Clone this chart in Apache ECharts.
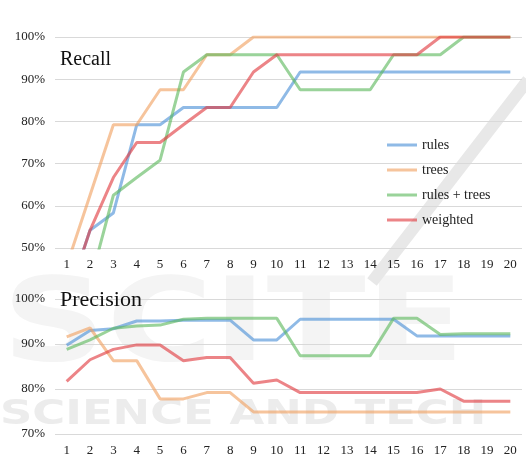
<!DOCTYPE html>
<html><head><meta charset="utf-8">
<script src="https://cdn.jsdelivr.net/npm/echarts@6/dist/echarts.min.js"></script>
<style>html,body{margin:0;padding:0;background:#fff}#c{width:526px;height:457px}</style>
</head><body><div id="c"></div>
<script>
var categories = ['1','2','3','4','5','6','7','8','9','10','11','12','13','14','15','16','17','18','19','20'];
var seriesNames = ['rules','trees','rules + trees','weighted'];
var recallRules    = [37.5,54.2,58.3,79.2,79.2,83.3,83.3,83.3,83.3,83.3,91.7,91.7,91.7,91.7,91.7,91.7,91.7,91.7,91.7,91.7];
var recallTrees    = [45.8,62.5,79.2,79.2,87.5,87.5,95.8,95.8,100,100,100,100,100,100,100,100,100,100,100,100];
var recallBoth     = [33.3,41.7,62.5,66.7,70.8,91.7,95.8,95.8,95.8,95.8,87.5,87.5,87.5,87.5,95.8,95.8,95.8,100,100,100];
var recallWeighted = [37.5,54.2,66.7,75.0,75.0,79.2,83.3,83.3,91.7,95.8,95.8,95.8,95.8,95.8,95.8,95.8,100,100,100,100];
var precRules    = [89.7,93.0,93.4,95.1,95.1,95.3,95.3,95.3,90.9,90.9,95.5,95.5,95.5,95.5,95.5,91.8,91.8,91.8,91.8,91.8];
var precTrees    = [91.6,93.6,86.3,86.3,77.8,77.8,79.2,79.2,74.9,74.9,74.9,74.9,74.9,74.9,74.9,74.9,74.9,74.9,74.9,74.9];
var precBoth     = [88.8,90.9,93.5,94.0,94.2,95.5,95.7,95.7,95.7,95.7,87.4,87.4,87.4,87.4,95.7,95.7,92.1,92.3,92.3,92.3];
var precWeighted = [81.7,86.5,88.8,89.8,89.8,86.3,87.0,87.0,81.3,82.0,79.2,79.2,79.2,79.2,79.2,79.2,80.0,77.3,77.3,77.3];
var recallTicks = [50,100,10];
var precTicks = [70,100,10];

var colors = ['#4a8fd6','#f0a060','#5cb85c','#e0393e'];
var FONT = '"Liberation Serif", "DejaVu Serif", serif';
var chart = echarts.init(document.getElementById('c'));
function mk(name, data, idx, ci){
  return {name:name, type:'line', data:data, xAxisIndex:idx, yAxisIndex:idx, symbol:'none',
    lineStyle:{width:3, color:colors[ci], opacity:0.62}, itemStyle:{color:colors[ci], opacity:0.62}, z:3};
}
function xAx(gi){
  return {type:'category', gridIndex:gi, data:categories, boundaryGap:true,
    axisLine:{show:false}, axisTick:{show:false},
    axisLabel:{fontFamily:FONT, fontSize:13, color:'#222', margin:10}};
}
function yAx(gi, t){
  return {type:'value', gridIndex:gi, min:t[0], max:t[1], interval:t[2],
    axisLine:{show:false}, axisTick:{show:false},
    axisLabel:{fontFamily:FONT, fontSize:13, color:'#222', formatter:'{value}%', margin:10},
    splitLine:{lineStyle:{color:'#d9d9d9', width:1}}};
}
chart.setOption({
  animation:false,
  backgroundColor:'#fff',
  color:colors,
  title:[
    {text:'Recall', left:55, top:45, textStyle:{fontFamily:FONT, fontSize:20, fontWeight:'normal', color:'#111'}},
    {text:'Precision', left:55, top:284, textStyle:{fontFamily:FONT, fontSize:22, fontWeight:'normal', color:'#111'}}
  ],
  graphic:[
    {type:'line', shape:{x1:528, y1:80, x2:372, y2:282}, style:{stroke:'#e8e8e8', lineWidth:12}, z:-10, silent:true},
    {type:'text', x:2, y:272, scaleX:1.25, style:{text:'SCITE', font:'bold 116px "DejaVu Sans", sans-serif', fill:'#f4f4f4'}, z:-11, silent:true},
    {type:'text', x:0, y:398, scaleX:1.32, style:{text:'SCIENCE AND TECH', font:'bold 34px "DejaVu Sans", sans-serif', fill:'#ececec'}, z:-10, silent:true}
  ],
  legend:{orient:'vertical', left:387, top:137, padding:0, icon:'rect', itemWidth:30, itemHeight:3, itemGap:9,
    itemStyle:{opacity:0.62},
    data:seriesNames, textStyle:{fontFamily:FONT, fontSize:14, lineHeight:16, color:'#222'}},
  grid:[
    {left:55, right:4, top:37, bottom:209, containLabel:false},
    {left:55, right:4, top:299, bottom:21, containLabel:false}
  ],
  xAxis:[xAx(0), xAx(1)],
  yAxis:[yAx(0, recallTicks), yAx(1, precTicks)],
  series:[
    mk(seriesNames[0], recallRules, 0, 0),
    mk(seriesNames[1], recallTrees, 0, 1),
    mk(seriesNames[2], recallBoth, 0, 2),
    mk(seriesNames[3], recallWeighted, 0, 3),
    mk(seriesNames[0], precRules, 1, 0),
    mk(seriesNames[1], precTrees, 1, 1),
    mk(seriesNames[2], precBoth, 1, 2),
    mk(seriesNames[3], precWeighted, 1, 3)
  ]
});
</script></body></html>
